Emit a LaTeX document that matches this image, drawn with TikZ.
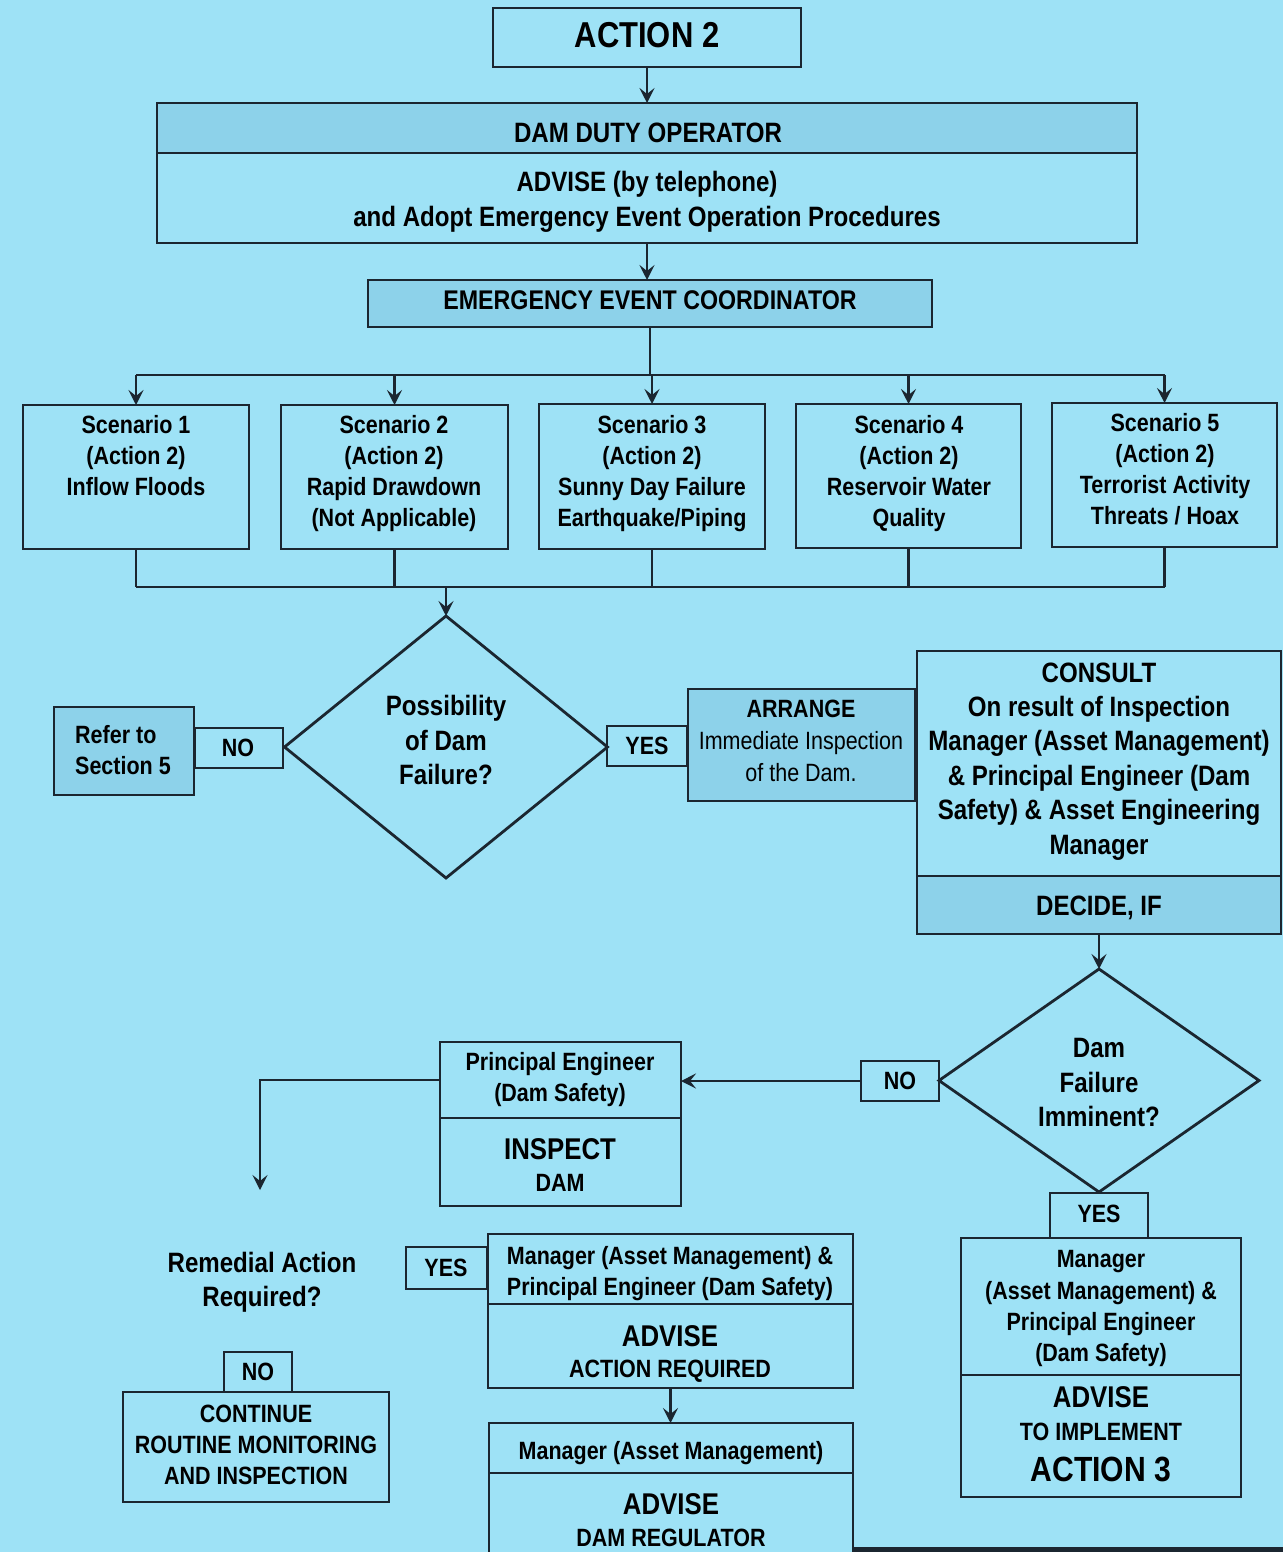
\documentclass[tikz,border=0pt]{standalone}
\usepackage{fontspec}
\setmainfont{Liberation Sans}[FakeStretch=0.86]
\usetikzlibrary{shapes.geometric,arrows.meta}

\definecolor{bg}{HTML}{9EE2F6}
\definecolor{band}{HTML}{8DD2EA}
\definecolor{ink}{HTML}{1B2630}

% strut that puts the optical centre of capitals at the node centre
\newcommand\sx{\rule[-0.234em]{0pt}{1.184em}}
\newcommand\fs[2]{\fontsize{#1}{#2}\selectfont\lineskiplimit=-100pt\relax}

% box by its corners: [options]{name}{x1}{y1}{x2}{y2}
\newcommand\bx[6][]{%
  \node[frame,#1,minimum width={(#5-#3)*1pt},minimum height={(#6-#4)*1pt}]
    (#2) at ({(#3+#5)/2},{(#4+#6)/2}) {};}

\tikzset{
  frame/.style={draw=ink, line width=2.8pt, inner sep=0pt, outer sep=0pt, rectangle},
  shaded/.style={fill=band},
  txt/.style={inner sep=0pt, align=center, text=black, font=\bfseries\fs{25}{31}},
  txtmid/.style={txt, font=\bfseries\fs{28}{34.4}},
  txtbig/.style={txt, font=\bfseries\fs{30}{34}},
  link/.style={draw=ink, line width=2.8pt},
  arrow/.style={link, -{Stealth[length=15pt,width=15pt,inset=6pt]}},
}

\begin{document}
\begin{tikzpicture}[x=1pt,y=-1pt]
\useasboundingbox (0,0) rectangle (1283,1552);
\fill[bg] (0,0) rectangle (1283,1552);

% ---------- top of the chart ----------
\bx{a2}{493}{8}{801}{67}
\node[txt, font=\bfseries\fs{36}{40}] (ta2) at (647,35) {\sx ACTION 2};

\bx[shaded]{ddoH}{157}{103}{1137}{153}
\bx{ddoB}{157}{153}{1137}{243}
\node[txtmid] (tddoH) at (648,132) {\sx DAM DUTY OPERATOR};
\node[txtmid] (tddoB) at (647,199) {\sx ADVISE (by telephone)\\\sx and Adopt Emergency Event Operation Procedures};

\bx[shaded]{eec}{368}{280}{932}{327}
\node[txt, font=\bfseries\fs{27}{31}] (teec) at (650,300) {\sx EMERGENCY EVENT COORDINATOR};

% ---------- scenarios ----------
\bx{s1}{23}{405}{249}{549}
\bx{s2}{281}{405}{508}{549}
\bx{s3}{539}{404}{765}{549}
\bx{s4}{796}{404}{1021}{548}
\bx{s5}{1052}{403}{1277}{547}
\node[txt] (ts1) at (136,456) {\sx Scenario 1\\\sx (Action 2)\\\sx Inflow Floods};
\node[txt] (ts2) at (394,471.5) {\sx Scenario 2\\\sx (Action 2)\\\sx Rapid Drawdown\\\sx (Not Applicable)};
\node[txt] (ts3) at (652,471) {\sx Scenario 3\\\sx (Action 2)\\\sx Sunny Day Failure\\\sx Earthquake/Piping};
\node[txt] (ts4) at (909,471) {\sx Scenario 4\\\sx (Action 2)\\\sx Reservoir Water\\\sx Quality};
\node[txt] (ts5) at (1165,469.5) {\sx Scenario 5\\\sx (Action 2)\\\sx Terrorist Activity\\\sx Threats / Hoax};

% ---------- first decision ----------
\node[frame, diamond, minimum width=323pt, minimum height=262pt] (d1) at (446,747) {};
\node[txtmid] (td1) at (446,740) {\sx Possibility\\\sx of Dam\\\sx Failure?};

\bx{no1}{195}{728}{283}{768}
\node[txt] (tno1) at (238,748) {\sx NO};
\bx[shaded]{ref}{54}{707}{194}{795}
\node[txt, align=left, anchor=west] (tref) at (75,750.5) {\sx Refer to\\\sx Section 5};

\bx{yes1}{607}{726}{687}{766}
\node[txt] (tyes1) at (647,746) {\sx YES};
\bx[shaded]{arrange}{688}{689}{915}{801}
\node[txt, font=\mdseries\fs{25}{32}] (tarrange) at (801,741) {\sx{\bfseries ARRANGE}\\\sx Immediate Inspection\\\sx of the Dam.};

\bx{cons}{917}{651}{1281}{876}
\bx[shaded]{dec}{917}{876}{1281}{934}
\node[txtmid] (tcons) at (1099,758) {\sx CONSULT\\\sx On result of Inspection\\\sx Manager (Asset Management)\\\sx \& Principal Engineer (Dam\\\sx Safety) \& Asset Engineering\\\sx Manager};
\node[txtmid] (tdec) at (1099,905) {\sx DECIDE, IF};

% ---------- second decision ----------
\node[frame, diamond, minimum width=320pt, minimum height=223pt] (d2) at (1099,1080.5) {};
\node[txtmid] (td2) at (1099,1082) {\sx Dam\\\sx Failure\\\sx Imminent?};

\bx{no2}{861}{1061}{939}{1101}
\node[txt] (tno2) at (900,1081) {\sx NO};

\bx{peH}{440}{1042}{681}{1118}
\bx{peB}{440}{1118}{681}{1206}
\node[txt] (tpeH) at (560,1077.5) {\sx Principal Engineer\\\sx (Dam Safety)};
\node[txtbig] (tpeB1) at (560,1149) {\sx INSPECT};
\node[txt] (tpeB2) at (560,1183) {\sx DAM};

\coordinate (remTop) at (260,1190);
\node[txtmid] (trem) at (262,1279.5) {\sx Remedial Action\\\sx Required?};

% ---------- remedial branch ----------
\bx{yes2}{406}{1247}{487}{1289}
\node[txt] (tyes2) at (446,1268) {\sx YES};
\bx{maH}{488}{1234}{853}{1304}
\bx{maB}{488}{1304}{853}{1388}
\node[txt] (tmaH) at (670,1271) {\sx Manager (Asset Management) \&\\\sx Principal Engineer (Dam Safety)};
\node[txtbig] (tmaB1) at (670,1336) {\sx ADVISE};
\node[txt] (tmaB2) at (670,1369) {\sx ACTION REQUIRED};

\bx{mgH}{489}{1423}{853}{1473}
\bx{mgB}{489}{1473}{853}{1590}
\node[txt] (tmgH) at (671,1451) {\sx Manager (Asset Management)};
\node[txtbig] (tmgB1) at (671,1504) {\sx ADVISE};
\node[txt] (tmgB2) at (671,1538) {\sx DAM REGULATOR};

\bx{no3}{224}{1352}{292}{1392}
\node[txt] (tno3) at (258,1372) {\sx NO};
\bx{cont}{123}{1392}{389}{1502}
\node[txt] (tcont) at (256,1444.5) {\sx CONTINUE\\\sx ROUTINE MONITORING\\\sx AND INSPECTION};

% ---------- failure imminent branch ----------
\bx{yes3}{1050}{1193}{1148}{1238}
\node[txt] (tyes3) at (1099,1214) {\sx YES};
\bx{rtH}{961}{1238}{1241}{1375}
\bx{rtB}{961}{1375}{1241}{1497}
\node[txt, font=\bfseries\fs{25}{31.3}] (trtH) at (1101,1305.75) {\sx Manager\\\sx (Asset Management) \&\\\sx Principal Engineer\\\sx (Dam Safety)};
\node[txtbig] (trtB1) at (1101,1397) {\sx ADVISE};
\node[txt] (trtB2) at (1101,1432) {\sx TO IMPLEMENT};
\node[txt, font=\bfseries\fs{35}{38}] (trtB3) at (1101,1469) {\sx ACTION 3};

% ---------- connectors ----------
\draw[arrow] (a2.south) -- (a2.south |- ddoH.north);
\draw[arrow] (ddoB.south) -- (ddoB.south |- eec.north);

\coordinate (busT) at (649,375);
\draw[link] (eec.south) -- (eec.south |- busT);
\draw[link] (s1.north |- busT) -- (s5.north |- busT);
\foreach \s in {s1,s2,s3,s4,s5}
  \draw[arrow] (\s.north |- busT) -- (\s.north);

\coordinate (busB) at (446,587);
\foreach \s in {s1,s2,s3,s4,s5}
  \draw[link] (\s.south) -- (\s.south |- busB);
\draw[link] (s1.south |- busB) -- (s5.south |- busB);
\draw[arrow] (busB) -- (d1.north);

\draw[arrow] (dec.south) -- (d2.north);
\draw[arrow] (no2.west) -- (no2.west -| peH.east);
\draw[arrow] (peH.west) -| (remTop);
\draw[arrow] (maB.south) -- (maB.south |- mgH.north);

% frame edge along the foot of the sheet
\draw[ink, line width=5pt] (mgB.east |- 0,1549) -- (1283,1549);
\end{tikzpicture}
\end{document}
